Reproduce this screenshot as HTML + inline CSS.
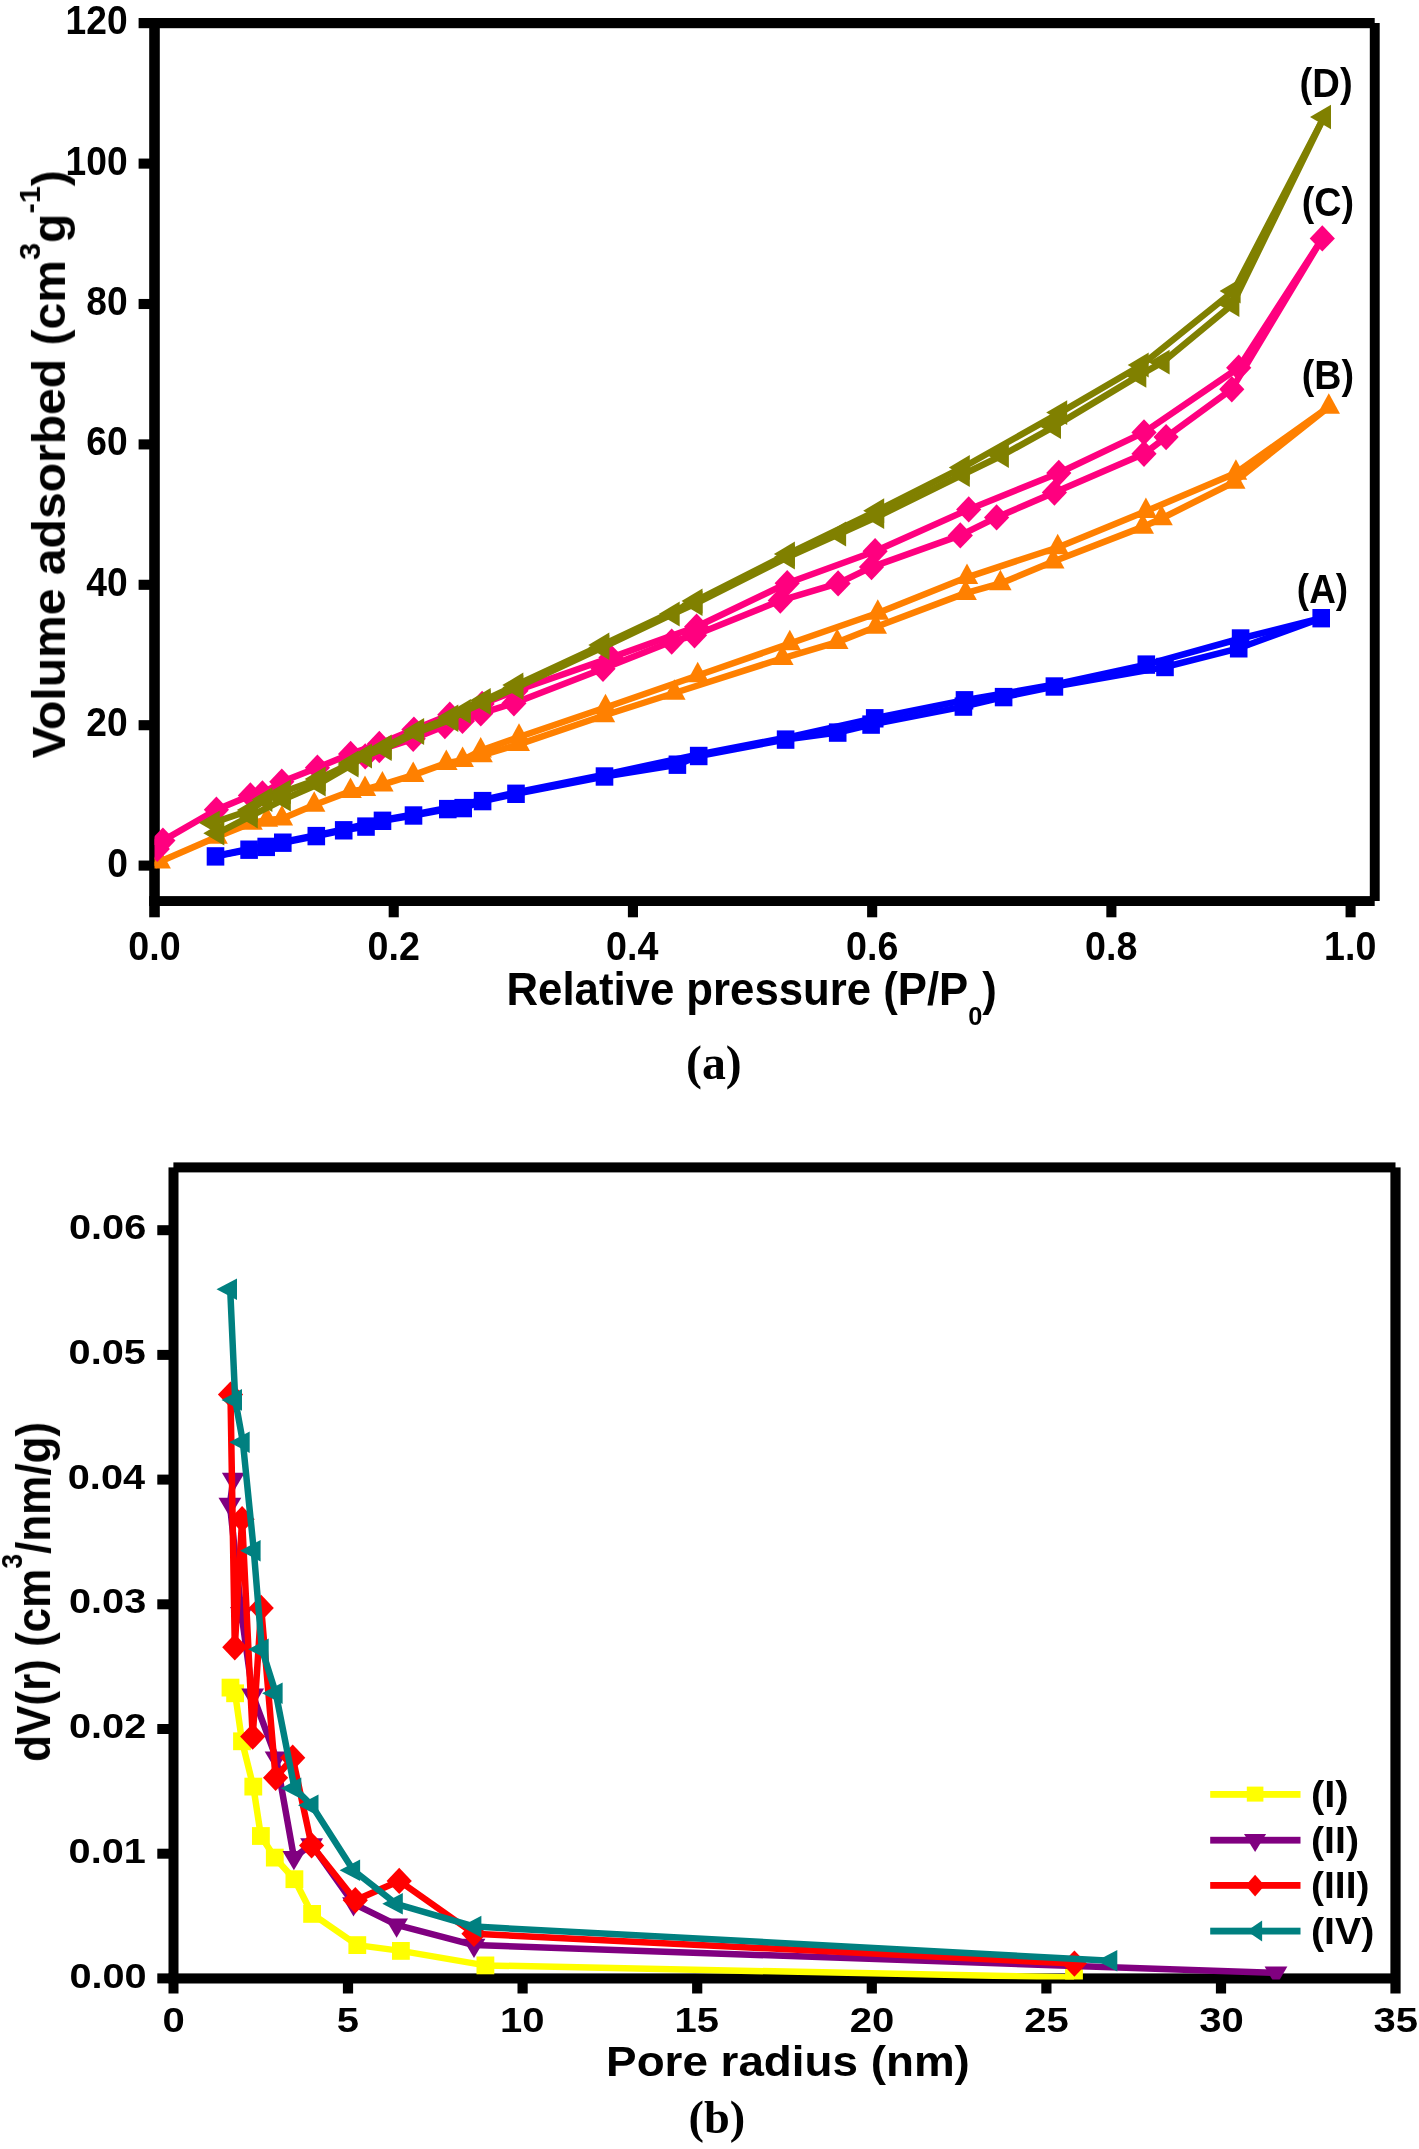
<!DOCTYPE html>
<html><head><meta charset="utf-8"><title>BET isotherms</title>
<style>html,body{margin:0;padding:0;background:#fff}svg{display:block}</style></head>
<body>
<svg width="1419" height="2149" viewBox="0 0 1419 2149">
<rect width="1419" height="2149" fill="#fff"/>
<rect x="138.60" y="18.00" width="1236.10" height="10.20" fill="#000"/>
<rect x="149.20" y="23.00" width="10.60" height="894.30" fill="#000"/>
<rect x="149.20" y="896.10" width="1225.50" height="9.90" fill="#000"/>
<rect x="1369.80" y="23.00" width="9.90" height="878.00" fill="#000"/>
<rect x="138.60" y="860.55" width="11.60" height="10.10" fill="#000"/>
<rect x="138.60" y="720.15" width="11.60" height="10.10" fill="#000"/>
<rect x="138.60" y="579.75" width="11.60" height="10.10" fill="#000"/>
<rect x="138.60" y="439.35" width="11.60" height="10.10" fill="#000"/>
<rect x="138.60" y="298.95" width="11.60" height="10.10" fill="#000"/>
<rect x="138.60" y="158.55" width="11.60" height="10.10" fill="#000"/>
<rect x="388.67" y="905.00" width="10.10" height="12.30" fill="#000"/>
<rect x="627.89" y="905.00" width="10.10" height="12.30" fill="#000"/>
<rect x="867.11" y="905.00" width="10.10" height="12.30" fill="#000"/>
<rect x="1106.33" y="905.00" width="10.10" height="12.30" fill="#000"/>
<rect x="1345.55" y="905.00" width="10.10" height="12.30" fill="#000"/>
<clipPath id="ca"><rect x="154.5" y="23" width="1220.2" height="878"/></clipPath>
<g clip-path="url(#ca)">
<polyline points="215.5,856.4 249.1,849.7 266.2,846.9 282.8,842.7 316.3,836.1 343.7,830.3 366.0,826.6 382.5,820.8 413.5,815.5 447.8,809.1 463.2,808.1 482.6,801.1 516.0,793.8 604.5,776.5 677.4,764.7 698.7,756.0 785.6,739.6 837.7,732.6 871.1,724.6 963.4,706.6 1003.6,697.1 1054.4,686.5 1165.0,667.0 1238.7,648.3 1321.2,618.2" fill="none" stroke="#0000ff" stroke-width="6.5" stroke-linejoin="round" stroke-linecap="butt"/>
<polyline points="1321.2,618.2 1240.6,638.5 1146.3,664.6 1055.0,684.5 964.5,700.3 874.7,718.3 785.6,737.8 698.7,754.4 604.5,774.6 516.0,792.4 482.6,800.0 447.8,808.0 413.5,814.5 382.5,820.0 343.7,829.5 316.3,835.3 282.8,842.0 249.1,849.0 215.5,856.0" fill="none" stroke="#0000ff" stroke-width="6.5" stroke-linejoin="round" stroke-linecap="butt"/>
<rect x="206.7" y="847.2" width="17.6" height="18.4" fill="#0000ff"/>
<rect x="240.3" y="840.5" width="17.6" height="18.4" fill="#0000ff"/>
<rect x="257.4" y="837.7" width="17.6" height="18.4" fill="#0000ff"/>
<rect x="274.0" y="833.5" width="17.6" height="18.4" fill="#0000ff"/>
<rect x="307.5" y="826.9" width="17.6" height="18.4" fill="#0000ff"/>
<rect x="334.9" y="821.1" width="17.6" height="18.4" fill="#0000ff"/>
<rect x="357.2" y="817.4" width="17.6" height="18.4" fill="#0000ff"/>
<rect x="373.7" y="811.6" width="17.6" height="18.4" fill="#0000ff"/>
<rect x="404.7" y="806.3" width="17.6" height="18.4" fill="#0000ff"/>
<rect x="439.0" y="799.9" width="17.6" height="18.4" fill="#0000ff"/>
<rect x="454.4" y="798.9" width="17.6" height="18.4" fill="#0000ff"/>
<rect x="473.8" y="791.9" width="17.6" height="18.4" fill="#0000ff"/>
<rect x="507.2" y="784.6" width="17.6" height="18.4" fill="#0000ff"/>
<rect x="595.7" y="767.3" width="17.6" height="18.4" fill="#0000ff"/>
<rect x="668.6" y="755.5" width="17.6" height="18.4" fill="#0000ff"/>
<rect x="689.9" y="746.8" width="17.6" height="18.4" fill="#0000ff"/>
<rect x="776.8" y="730.4" width="17.6" height="18.4" fill="#0000ff"/>
<rect x="828.9" y="723.4" width="17.6" height="18.4" fill="#0000ff"/>
<rect x="862.3" y="715.4" width="17.6" height="18.4" fill="#0000ff"/>
<rect x="954.6" y="697.4" width="17.6" height="18.4" fill="#0000ff"/>
<rect x="994.8" y="687.9" width="17.6" height="18.4" fill="#0000ff"/>
<rect x="1045.6" y="677.3" width="17.6" height="18.4" fill="#0000ff"/>
<rect x="1156.2" y="657.8" width="17.6" height="18.4" fill="#0000ff"/>
<rect x="1229.9" y="639.1" width="17.6" height="18.4" fill="#0000ff"/>
<rect x="1312.4" y="609.0" width="17.6" height="18.4" fill="#0000ff"/>
<rect x="1231.8" y="629.3" width="17.6" height="18.4" fill="#0000ff"/>
<rect x="1137.5" y="655.4" width="17.6" height="18.4" fill="#0000ff"/>
<rect x="955.7" y="691.1" width="17.6" height="18.4" fill="#0000ff"/>
<rect x="865.9" y="709.1" width="17.6" height="18.4" fill="#0000ff"/>
<polyline points="154.5,866.0 159.7,861.7 216.6,837.0 251.5,823.0 267.0,820.0 281.9,818.8 314.2,805.0 350.5,791.3 365.0,789.3 382.4,784.6 413.2,775.1 446.3,763.1 462.6,760.1 480.7,750.6 519.0,737.0 605.5,707.5 697.7,675.5 789.8,643.5 877.8,613.0 967.0,577.3 1057.7,547.5 1145.9,511.3 1235.9,472.9 1328.8,406.9" fill="none" stroke="#ff8000" stroke-width="6.5" stroke-linejoin="round" stroke-linecap="butt"/>
<polyline points="462.6,760.1 481.5,755.5 518.8,744.3 604.0,715.5 674.4,693.0 782.4,658.3 837.2,642.2 875.7,626.9 965.6,593.1 1000.4,583.4 1053.3,561.6 1142.8,526.9 1161.5,518.5 1234.3,482.0 1328.8,406.9" fill="none" stroke="#ff8000" stroke-width="6.5" stroke-linejoin="round" stroke-linecap="butt"/>
<polygon points="148.4,868.5 170.9,868.5 159.7,848.0" fill="#ff8000"/>
<polygon points="205.3,843.8 227.8,843.8 216.6,823.3" fill="#ff8000"/>
<polygon points="240.2,829.8 262.8,829.8 251.5,809.3" fill="#ff8000"/>
<polygon points="255.8,826.8 278.2,826.8 267.0,806.3" fill="#ff8000"/>
<polygon points="270.6,825.6 293.1,825.6 281.9,805.1" fill="#ff8000"/>
<polygon points="302.9,811.8 325.4,811.8 314.2,791.3" fill="#ff8000"/>
<polygon points="339.2,798.1 361.8,798.1 350.5,777.6" fill="#ff8000"/>
<polygon points="353.8,796.1 376.2,796.1 365.0,775.6" fill="#ff8000"/>
<polygon points="371.1,791.4 393.6,791.4 382.4,770.9" fill="#ff8000"/>
<polygon points="401.9,781.9 424.4,781.9 413.2,761.4" fill="#ff8000"/>
<polygon points="435.1,769.9 457.6,769.9 446.3,749.4" fill="#ff8000"/>
<polygon points="451.4,766.9 473.9,766.9 462.6,746.4" fill="#ff8000"/>
<polygon points="469.4,757.4 491.9,757.4 480.7,736.9" fill="#ff8000"/>
<polygon points="507.8,743.8 530.2,743.8 519.0,723.3" fill="#ff8000"/>
<polygon points="594.2,714.3 616.8,714.3 605.5,693.8" fill="#ff8000"/>
<polygon points="686.5,682.3 709.0,682.3 697.7,661.8" fill="#ff8000"/>
<polygon points="778.5,650.3 801.0,650.3 789.8,629.8" fill="#ff8000"/>
<polygon points="866.5,619.8 889.0,619.8 877.8,599.3" fill="#ff8000"/>
<polygon points="955.8,584.1 978.2,584.1 967.0,563.6" fill="#ff8000"/>
<polygon points="1046.5,554.3 1069.0,554.3 1057.7,533.8" fill="#ff8000"/>
<polygon points="1134.7,518.1 1157.2,518.1 1145.9,497.6" fill="#ff8000"/>
<polygon points="1224.7,479.7 1247.2,479.7 1235.9,459.2" fill="#ff8000"/>
<polygon points="1317.5,413.7 1340.0,413.7 1328.8,393.2" fill="#ff8000"/>
<polygon points="470.2,762.3 492.8,762.3 481.5,741.8" fill="#ff8000"/>
<polygon points="507.5,751.1 530.0,751.1 518.8,730.6" fill="#ff8000"/>
<polygon points="592.8,722.3 615.2,722.3 604.0,701.8" fill="#ff8000"/>
<polygon points="663.1,699.8 685.6,699.8 674.4,679.3" fill="#ff8000"/>
<polygon points="771.1,665.1 793.6,665.1 782.4,644.6" fill="#ff8000"/>
<polygon points="826.0,649.0 848.5,649.0 837.2,628.5" fill="#ff8000"/>
<polygon points="864.5,633.7 887.0,633.7 875.7,613.2" fill="#ff8000"/>
<polygon points="954.4,599.9 976.9,599.9 965.6,579.4" fill="#ff8000"/>
<polygon points="989.1,590.2 1011.6,590.2 1000.4,569.7" fill="#ff8000"/>
<polygon points="1042.0,568.4 1064.5,568.4 1053.3,547.9" fill="#ff8000"/>
<polygon points="1131.5,533.7 1154.0,533.7 1142.8,513.2" fill="#ff8000"/>
<polygon points="1150.2,525.3 1172.8,525.3 1161.5,504.8" fill="#ff8000"/>
<polygon points="1223.0,488.8 1245.5,488.8 1234.3,468.3" fill="#ff8000"/>
<polyline points="157.3,848.9 162.9,840.6 216.4,809.8 250.4,795.5 262.4,793.5 281.8,781.7 317.4,767.7 350.6,753.9 379.3,744.0 413.9,729.6 449.8,714.8 482.1,703.9 516.0,690.8 611.0,657.6 696.6,626.8 787.2,583.3 875.1,551.2 968.7,509.4 1058.8,473.0 1144.0,432.4 1238.7,367.8 1322.3,238.4" fill="none" stroke="#ff007f" stroke-width="6.5" stroke-linejoin="round" stroke-linecap="butt"/>
<polyline points="350.6,753.9 365.2,756.4 379.3,750.0 413.2,738.8 444.9,726.1 462.5,720.9 480.8,713.4 513.9,703.2 603.0,668.7 671.7,641.6 694.5,635.3 780.3,600.6 838.1,583.4 871.5,567.1 960.3,535.4 996.6,517.4 1054.4,492.5 1144.0,453.8 1166.1,437.1 1231.8,389.2 1322.3,238.4" fill="none" stroke="#ff007f" stroke-width="6.5" stroke-linejoin="round" stroke-linecap="butt"/>
<polygon points="144.7,848.9 157.3,835.7 169.9,848.9 157.3,862.1" fill="#ff007f"/>
<polygon points="150.3,840.6 162.9,827.4 175.5,840.6 162.9,853.8" fill="#ff007f"/>
<polygon points="203.8,809.8 216.4,796.6 229.0,809.8 216.4,823.0" fill="#ff007f"/>
<polygon points="237.8,795.5 250.4,782.3 263.0,795.5 250.4,808.7" fill="#ff007f"/>
<polygon points="249.8,793.5 262.4,780.3 275.0,793.5 262.4,806.7" fill="#ff007f"/>
<polygon points="269.2,781.7 281.8,768.5 294.4,781.7 281.8,794.9" fill="#ff007f"/>
<polygon points="304.8,767.7 317.4,754.5 330.0,767.7 317.4,780.9" fill="#ff007f"/>
<polygon points="338.0,753.9 350.6,740.7 363.2,753.9 350.6,767.1" fill="#ff007f"/>
<polygon points="366.7,744.0 379.3,730.8 391.9,744.0 379.3,757.2" fill="#ff007f"/>
<polygon points="401.3,729.6 413.9,716.4 426.5,729.6 413.9,742.8" fill="#ff007f"/>
<polygon points="437.2,714.8 449.8,701.6 462.4,714.8 449.8,728.0" fill="#ff007f"/>
<polygon points="469.5,703.9 482.1,690.7 494.7,703.9 482.1,717.1" fill="#ff007f"/>
<polygon points="503.4,690.8 516.0,677.6 528.6,690.8 516.0,704.0" fill="#ff007f"/>
<polygon points="598.4,657.6 611.0,644.4 623.6,657.6 611.0,670.8" fill="#ff007f"/>
<polygon points="684.0,626.8 696.6,613.6 709.2,626.8 696.6,640.0" fill="#ff007f"/>
<polygon points="774.6,583.3 787.2,570.1 799.8,583.3 787.2,596.5" fill="#ff007f"/>
<polygon points="862.5,551.2 875.1,538.0 887.7,551.2 875.1,564.4" fill="#ff007f"/>
<polygon points="956.1,509.4 968.7,496.2 981.3,509.4 968.7,522.6" fill="#ff007f"/>
<polygon points="1046.2,473.0 1058.8,459.8 1071.4,473.0 1058.8,486.2" fill="#ff007f"/>
<polygon points="1131.4,432.4 1144.0,419.2 1156.6,432.4 1144.0,445.6" fill="#ff007f"/>
<polygon points="1226.1,367.8 1238.7,354.6 1251.3,367.8 1238.7,381.0" fill="#ff007f"/>
<polygon points="1309.7,238.4 1322.3,225.2 1334.9,238.4 1322.3,251.6" fill="#ff007f"/>
<polygon points="352.6,756.4 365.2,743.2 377.8,756.4 365.2,769.6" fill="#ff007f"/>
<polygon points="366.7,750.0 379.3,736.8 391.9,750.0 379.3,763.2" fill="#ff007f"/>
<polygon points="400.6,738.8 413.2,725.6 425.8,738.8 413.2,752.0" fill="#ff007f"/>
<polygon points="432.3,726.1 444.9,712.9 457.5,726.1 444.9,739.3" fill="#ff007f"/>
<polygon points="449.9,720.9 462.5,707.7 475.1,720.9 462.5,734.1" fill="#ff007f"/>
<polygon points="468.2,713.4 480.8,700.2 493.4,713.4 480.8,726.6" fill="#ff007f"/>
<polygon points="501.3,703.2 513.9,690.0 526.5,703.2 513.9,716.4" fill="#ff007f"/>
<polygon points="590.4,668.7 603.0,655.5 615.6,668.7 603.0,681.9" fill="#ff007f"/>
<polygon points="659.1,641.6 671.7,628.4 684.3,641.6 671.7,654.8" fill="#ff007f"/>
<polygon points="681.9,635.3 694.5,622.1 707.1,635.3 694.5,648.5" fill="#ff007f"/>
<polygon points="767.7,600.6 780.3,587.4 792.9,600.6 780.3,613.8" fill="#ff007f"/>
<polygon points="825.5,583.4 838.1,570.2 850.7,583.4 838.1,596.6" fill="#ff007f"/>
<polygon points="858.9,567.1 871.5,553.9 884.1,567.1 871.5,580.3" fill="#ff007f"/>
<polygon points="947.7,535.4 960.3,522.2 972.9,535.4 960.3,548.6" fill="#ff007f"/>
<polygon points="984.0,517.4 996.6,504.2 1009.2,517.4 996.6,530.6" fill="#ff007f"/>
<polygon points="1041.8,492.5 1054.4,479.3 1067.0,492.5 1054.4,505.7" fill="#ff007f"/>
<polygon points="1131.4,453.8 1144.0,440.6 1156.6,453.8 1144.0,467.0" fill="#ff007f"/>
<polygon points="1153.5,437.1 1166.1,423.9 1178.7,437.1 1166.1,450.3" fill="#ff007f"/>
<polygon points="1219.2,389.2 1231.8,376.0 1244.4,389.2 1231.8,402.4" fill="#ff007f"/>
<polyline points="1324.0,117.0 1233.6,291.0 1141.7,365.0 1060.2,412.6 962.8,467.5 877.2,510.7 787.9,554.0 695.5,601.0 602.3,645.0 516.3,685.0 483.7,700.5 451.3,717.0 417.1,730.5 384.7,747.0 351.5,763.0 318.7,779.0 283.8,791.7 265.4,799.6 250.8,810.0 212.8,822.8" fill="none" stroke="#808000" stroke-width="6.5" stroke-linejoin="round" stroke-linecap="butt"/>
<polyline points="217.3,833.3 250.8,816.0 283.8,799.3 318.7,784.0 351.5,765.0 365.0,756.0 384.7,748.5 417.1,732.5 451.3,719.5 463.9,711.5 483.7,702.5 516.3,687.5 602.3,647.5 672.7,614.0 695.5,603.5 787.9,557.0 839.1,534.0 877.2,516.8 962.8,474.5 1001.9,455.5 1054.0,426.6 1139.3,375.4 1162.6,362.2 1232.4,304.5 1324.0,117.0" fill="none" stroke="#808000" stroke-width="6.5" stroke-linejoin="round" stroke-linecap="butt"/>
<polygon points="1331.0,104.7 1331.0,129.3 1310.0,117.0" fill="#808000"/>
<polygon points="1240.6,278.6 1240.6,303.4 1219.6,291.0" fill="#808000"/>
<polygon points="1148.7,352.6 1148.7,377.4 1127.7,365.0" fill="#808000"/>
<polygon points="1067.2,400.2 1067.2,425.0 1046.2,412.6" fill="#808000"/>
<polygon points="969.8,455.1 969.8,479.9 948.8,467.5" fill="#808000"/>
<polygon points="884.2,498.3 884.2,523.0 863.2,510.7" fill="#808000"/>
<polygon points="794.9,541.6 794.9,566.4 773.9,554.0" fill="#808000"/>
<polygon points="702.5,588.6 702.5,613.4 681.5,601.0" fill="#808000"/>
<polygon points="609.3,632.6 609.3,657.4 588.3,645.0" fill="#808000"/>
<polygon points="523.3,672.6 523.3,697.4 502.3,685.0" fill="#808000"/>
<polygon points="490.7,688.1 490.7,712.9 469.7,700.5" fill="#808000"/>
<polygon points="458.3,704.6 458.3,729.4 437.3,717.0" fill="#808000"/>
<polygon points="424.1,718.1 424.1,742.9 403.1,730.5" fill="#808000"/>
<polygon points="391.7,734.6 391.7,759.4 370.7,747.0" fill="#808000"/>
<polygon points="358.5,750.6 358.5,775.4 337.5,763.0" fill="#808000"/>
<polygon points="325.7,766.6 325.7,791.4 304.7,779.0" fill="#808000"/>
<polygon points="290.8,779.4 290.8,804.1 269.8,791.7" fill="#808000"/>
<polygon points="272.4,787.2 272.4,812.0 251.4,799.6" fill="#808000"/>
<polygon points="257.8,797.6 257.8,822.4 236.8,810.0" fill="#808000"/>
<polygon points="219.8,810.4 219.8,835.1 198.8,822.8" fill="#808000"/>
<polygon points="224.3,820.9 224.3,845.6 203.3,833.3" fill="#808000"/>
<polygon points="257.8,803.6 257.8,828.4 236.8,816.0" fill="#808000"/>
<polygon points="290.8,786.9 290.8,811.6 269.8,799.3" fill="#808000"/>
<polygon points="325.7,771.6 325.7,796.4 304.7,784.0" fill="#808000"/>
<polygon points="358.5,752.6 358.5,777.4 337.5,765.0" fill="#808000"/>
<polygon points="372.0,743.6 372.0,768.4 351.0,756.0" fill="#808000"/>
<polygon points="391.7,736.1 391.7,760.9 370.7,748.5" fill="#808000"/>
<polygon points="424.1,720.1 424.1,744.9 403.1,732.5" fill="#808000"/>
<polygon points="458.3,707.1 458.3,731.9 437.3,719.5" fill="#808000"/>
<polygon points="470.9,699.1 470.9,723.9 449.9,711.5" fill="#808000"/>
<polygon points="490.7,690.1 490.7,714.9 469.7,702.5" fill="#808000"/>
<polygon points="523.3,675.1 523.3,699.9 502.3,687.5" fill="#808000"/>
<polygon points="609.3,635.1 609.3,659.9 588.3,647.5" fill="#808000"/>
<polygon points="679.7,601.6 679.7,626.4 658.7,614.0" fill="#808000"/>
<polygon points="702.5,591.1 702.5,615.9 681.5,603.5" fill="#808000"/>
<polygon points="794.9,544.6 794.9,569.4 773.9,557.0" fill="#808000"/>
<polygon points="846.1,521.6 846.1,546.4 825.1,534.0" fill="#808000"/>
<polygon points="884.2,504.4 884.2,529.1 863.2,516.8" fill="#808000"/>
<polygon points="969.8,462.1 969.8,486.9 948.8,474.5" fill="#808000"/>
<polygon points="1008.9,443.1 1008.9,467.9 987.9,455.5" fill="#808000"/>
<polygon points="1061.0,414.2 1061.0,439.0 1040.0,426.6" fill="#808000"/>
<polygon points="1146.3,363.0 1146.3,387.8 1125.3,375.4" fill="#808000"/>
<polygon points="1169.6,349.8 1169.6,374.6 1148.6,362.2" fill="#808000"/>
<polygon points="1239.4,292.1 1239.4,316.9 1218.4,304.5" fill="#808000"/>
</g>
<rect x="173.40" y="1162.40" width="1222.10" height="10.00" fill="#000"/>
<rect x="168.50" y="1167.40" width="10.00" height="826.10" fill="#000"/>
<rect x="168.50" y="1973.40" width="1227.00" height="10.10" fill="#000"/>
<rect x="1390.40" y="1167.40" width="10.20" height="826.10" fill="#000"/>
<rect x="157.30" y="1973.40" width="12.20" height="10.00" fill="#000"/>
<rect x="157.30" y="1848.70" width="12.20" height="10.00" fill="#000"/>
<rect x="157.30" y="1724.00" width="12.20" height="10.00" fill="#000"/>
<rect x="157.30" y="1599.30" width="12.20" height="10.00" fill="#000"/>
<rect x="157.30" y="1474.60" width="12.20" height="10.00" fill="#000"/>
<rect x="157.30" y="1349.90" width="12.20" height="10.00" fill="#000"/>
<rect x="157.30" y="1225.20" width="12.20" height="10.00" fill="#000"/>
<rect x="342.90" y="1982.50" width="10.20" height="11.00" fill="#000"/>
<rect x="517.50" y="1982.50" width="10.20" height="11.00" fill="#000"/>
<rect x="692.10" y="1982.50" width="10.20" height="11.00" fill="#000"/>
<rect x="866.70" y="1982.50" width="10.20" height="11.00" fill="#000"/>
<rect x="1041.30" y="1982.50" width="10.20" height="11.00" fill="#000"/>
<rect x="1215.90" y="1982.50" width="10.20" height="11.00" fill="#000"/>
<clipPath id="cb"><rect x="173.4" y="1167.4" width="1222.1" height="812.1999999999998"/></clipPath>
<g clip-path="url(#cb)">
<polyline points="230.5,1687.6 235.1,1693.3 242.0,1741.3 253.3,1786.6 260.9,1836.0 274.8,1857.6 294.4,1879.2 312.1,1913.9 357.3,1945.1 400.9,1950.9 485.4,1965.4 1074.0,1977.5" fill="none" stroke="#ffff00" stroke-width="6.5" stroke-linejoin="round" stroke-linecap="butt"/>
<rect x="221.6" y="1678.7" width="17.8" height="17.8" fill="#ffff00"/>
<rect x="226.2" y="1684.4" width="17.8" height="17.8" fill="#ffff00"/>
<rect x="233.1" y="1732.4" width="17.8" height="17.8" fill="#ffff00"/>
<rect x="244.4" y="1777.7" width="17.8" height="17.8" fill="#ffff00"/>
<rect x="252.0" y="1827.1" width="17.8" height="17.8" fill="#ffff00"/>
<rect x="265.9" y="1848.7" width="17.8" height="17.8" fill="#ffff00"/>
<rect x="285.5" y="1870.3" width="17.8" height="17.8" fill="#ffff00"/>
<rect x="303.2" y="1905.0" width="17.8" height="17.8" fill="#ffff00"/>
<rect x="348.4" y="1936.2" width="17.8" height="17.8" fill="#ffff00"/>
<rect x="392.0" y="1942.0" width="17.8" height="17.8" fill="#ffff00"/>
<rect x="476.5" y="1956.5" width="17.8" height="17.8" fill="#ffff00"/>
<rect x="1065.1" y="1968.6" width="17.8" height="17.8" fill="#ffff00"/>
<polyline points="233.3,1479.2 229.9,1504.2 241.4,1613.4 252.7,1695.0 276.1,1757.8 293.9,1857.3 311.6,1844.6 353.5,1903.7 396.6,1924.8 474.0,1945.1 1276.0,1973.0" fill="none" stroke="#800080" stroke-width="6.5" stroke-linejoin="round" stroke-linecap="butt"/>
<polygon points="221.9,1472.8 244.7,1472.8 233.3,1492.1" fill="#800080"/>
<polygon points="218.5,1497.8 241.3,1497.8 229.9,1517.1" fill="#800080"/>
<polygon points="230.0,1607.0 252.8,1607.0 241.4,1626.3" fill="#800080"/>
<polygon points="241.3,1688.6 264.1,1688.6 252.7,1707.9" fill="#800080"/>
<polygon points="264.7,1751.4 287.5,1751.4 276.1,1770.7" fill="#800080"/>
<polygon points="282.5,1850.9 305.3,1850.9 293.9,1870.2" fill="#800080"/>
<polygon points="300.2,1838.2 323.0,1838.2 311.6,1857.5" fill="#800080"/>
<polygon points="342.1,1897.3 364.9,1897.3 353.5,1916.6" fill="#800080"/>
<polygon points="385.2,1918.4 408.0,1918.4 396.6,1937.7" fill="#800080"/>
<polygon points="462.6,1938.7 485.4,1938.7 474.0,1958.0" fill="#800080"/>
<polygon points="1264.6,1966.6 1287.4,1966.6 1276.0,1985.9" fill="#800080"/>
<polyline points="230.5,1394.6 234.8,1647.2 242.1,1519.2 252.7,1736.6 261.2,1608.0 275.6,1777.7 292.7,1757.8 311.6,1845.4 355.3,1900.2 399.2,1880.9 474.0,1933.7 1074.4,1963.6" fill="none" stroke="#ff0000" stroke-width="6.5" stroke-linejoin="round" stroke-linecap="butt"/>
<polygon points="217.9,1394.6 230.5,1381.4 243.1,1394.6 230.5,1407.8" fill="#ff0000"/>
<polygon points="222.2,1647.2 234.8,1634.0 247.4,1647.2 234.8,1660.4" fill="#ff0000"/>
<polygon points="229.5,1519.2 242.1,1506.0 254.7,1519.2 242.1,1532.4" fill="#ff0000"/>
<polygon points="240.1,1736.6 252.7,1723.4 265.3,1736.6 252.7,1749.8" fill="#ff0000"/>
<polygon points="248.6,1608.0 261.2,1594.8 273.8,1608.0 261.2,1621.2" fill="#ff0000"/>
<polygon points="263.0,1777.7 275.6,1764.5 288.2,1777.7 275.6,1790.9" fill="#ff0000"/>
<polygon points="280.1,1757.8 292.7,1744.6 305.3,1757.8 292.7,1771.0" fill="#ff0000"/>
<polygon points="299.0,1845.4 311.6,1832.2 324.2,1845.4 311.6,1858.6" fill="#ff0000"/>
<polygon points="342.7,1900.2 355.3,1887.0 367.9,1900.2 355.3,1913.4" fill="#ff0000"/>
<polygon points="386.6,1880.9 399.2,1867.7 411.8,1880.9 399.2,1894.1" fill="#ff0000"/>
<polygon points="461.4,1933.7 474.0,1920.5 486.6,1933.7 474.0,1946.9" fill="#ff0000"/>
<polygon points="1061.8,1963.6 1074.4,1950.4 1087.0,1963.6 1074.4,1976.8" fill="#ff0000"/>
<polyline points="230.2,1289.3 235.2,1399.9 242.9,1442.2 253.8,1550.7 261.9,1649.3 275.8,1693.2 294.5,1788.3 311.7,1805.3 353.3,1870.3 396.0,1903.8 474.6,1926.6 1110.5,1960.7" fill="none" stroke="#008080" stroke-width="6.5" stroke-linejoin="round" stroke-linecap="butt"/>
<polygon points="237.0,1278.5 237.0,1300.1 216.5,1289.3" fill="#008080"/>
<polygon points="242.0,1389.1 242.0,1410.8 221.5,1399.9" fill="#008080"/>
<polygon points="249.7,1431.4 249.7,1453.0 229.2,1442.2" fill="#008080"/>
<polygon points="260.6,1539.9 260.6,1561.5 240.1,1550.7" fill="#008080"/>
<polygon points="268.7,1638.5 268.7,1660.1 248.2,1649.3" fill="#008080"/>
<polygon points="282.6,1682.4 282.6,1704.0 262.1,1693.2" fill="#008080"/>
<polygon points="301.3,1777.5 301.3,1799.1 280.8,1788.3" fill="#008080"/>
<polygon points="318.5,1794.5 318.5,1816.1 298.0,1805.3" fill="#008080"/>
<polygon points="360.1,1859.5 360.1,1881.1 339.6,1870.3" fill="#008080"/>
<polygon points="402.8,1893.0 402.8,1914.6 382.3,1903.8" fill="#008080"/>
<polygon points="481.4,1915.8 481.4,1937.4 460.9,1926.6" fill="#008080"/>
<polygon points="1117.3,1949.9 1117.3,1971.5 1096.8,1960.7" fill="#008080"/>
</g>
<rect x="1210.20" y="1791.00" width="90.30" height="6.80" fill="#ffff00"/>
<rect x="1210.20" y="1836.80" width="90.30" height="6.80" fill="#800080"/>
<rect x="1210.20" y="1882.00" width="90.30" height="6.80" fill="#ff0000"/>
<rect x="1210.20" y="1927.70" width="90.30" height="6.80" fill="#008080"/>
<rect x="1246.8" y="1786.6" width="16.6" height="15.0" fill="#ffff00"/>
<polygon points="1244.0,1834.1 1266.1,1834.1 1255.1,1851.9" fill="#800080"/>
<polygon points="1245.6,1885.6 1255.1,1874.8 1264.6,1885.6 1255.1,1896.4" fill="#ff0000"/>
<polygon points="1262.1,1920.6 1262.1,1941.6 1246.8,1931.1" fill="#008080"/>
<g opacity="0.999">
<text transform="translate(107.21,876.64) scale(0.3723,0.4070)" font-family="'Liberation Sans', sans-serif" font-weight="bold" font-size="100" fill="#000">0</text>
<text transform="translate(86.36,736.24) scale(0.3723,0.4070)" font-family="'Liberation Sans', sans-serif" font-weight="bold" font-size="100" fill="#000">20</text>
<text transform="translate(86.36,595.84) scale(0.3723,0.4070)" font-family="'Liberation Sans', sans-serif" font-weight="bold" font-size="100" fill="#000">40</text>
<text transform="translate(86.36,455.44) scale(0.3723,0.4070)" font-family="'Liberation Sans', sans-serif" font-weight="bold" font-size="100" fill="#000">60</text>
<text transform="translate(86.36,315.04) scale(0.3723,0.4070)" font-family="'Liberation Sans', sans-serif" font-weight="bold" font-size="100" fill="#000">80</text>
<text transform="translate(65.52,174.64) scale(0.3723,0.4070)" font-family="'Liberation Sans', sans-serif" font-weight="bold" font-size="100" fill="#000">100</text>
<text transform="translate(65.52,34.24) scale(0.3723,0.4070)" font-family="'Liberation Sans', sans-serif" font-weight="bold" font-size="100" fill="#000">120</text>
<text transform="translate(128.34,959.79) scale(0.3763,0.4070)" font-family="'Liberation Sans', sans-serif" font-weight="bold" font-size="100" fill="#000">0.0</text>
<text transform="translate(367.56,959.79) scale(0.3763,0.4070)" font-family="'Liberation Sans', sans-serif" font-weight="bold" font-size="100" fill="#000">0.2</text>
<text transform="translate(606.03,959.79) scale(0.3763,0.4070)" font-family="'Liberation Sans', sans-serif" font-weight="bold" font-size="100" fill="#000">0.4</text>
<text transform="translate(846.00,959.79) scale(0.3763,0.4070)" font-family="'Liberation Sans', sans-serif" font-weight="bold" font-size="100" fill="#000">0.6</text>
<text transform="translate(1085.04,959.79) scale(0.3763,0.4070)" font-family="'Liberation Sans', sans-serif" font-weight="bold" font-size="100" fill="#000">0.8</text>
<text transform="translate(1324.07,959.79) scale(0.3763,0.4070)" font-family="'Liberation Sans', sans-serif" font-weight="bold" font-size="100" fill="#000">1.0</text>
<text transform="translate(1299.59,97.21) scale(0.3822,0.4043)" font-family="'Liberation Sans', sans-serif" font-weight="bold" font-size="100" fill="#000">(D)</text>
<text transform="translate(1301.72,216.31) scale(0.3767,0.4043)" font-family="'Liberation Sans', sans-serif" font-weight="bold" font-size="100" fill="#000">(C)</text>
<text transform="translate(1301.72,389.01) scale(0.3767,0.4043)" font-family="'Liberation Sans', sans-serif" font-weight="bold" font-size="100" fill="#000">(B)</text>
<text transform="translate(1296.86,603.31) scale(0.3690,0.4043)" font-family="'Liberation Sans', sans-serif" font-weight="bold" font-size="100" fill="#000">(A)</text>
<text transform="translate(685.99,1078.72) scale(0.4778,0.4800)" font-family="'Liberation Serif', serif" font-weight="bold" font-size="100" fill="#000">(a)</text>
<text transform="translate(688.44,2132.55) scale(0.4640,0.4689)" font-family="'Liberation Serif', serif" font-weight="bold" font-size="100" fill="#000">(b)</text>
<text transform="translate(506.54,1004.80) scale(0.4373,0.4565)" font-family="'Liberation Sans', sans-serif" font-weight="bold" font-size="100" fill="#000">Relative pressure (P/P<tspan font-size="58" dy="45">0</tspan><tspan dy="-45">)</tspan></text>
<text transform="translate(65.00,758.48) rotate(-90) scale(0.4807,0.4696)" font-family="'Liberation Sans', sans-serif" font-weight="bold" font-size="100" fill="#000">Volume adsorbed (cm<tspan font-size="64" dy="-54">3</tspan><tspan dy="54">g</tspan><tspan font-size="64" dy="-54">-1</tspan><tspan dy="54">)</tspan></text>
<text transform="translate(606.10,2075.90) scale(0.4579,0.4232)" font-family="'Liberation Sans', sans-serif" font-weight="bold" font-size="100" fill="#000">Pore radius (nm)</text>
<text transform="translate(50.40,1761.86) rotate(-90) scale(0.4405,0.4812)" font-family="'Liberation Sans', sans-serif" font-weight="bold" font-size="100" fill="#000">dV(r) (cm<tspan font-size="60" dy="-58">3</tspan><tspan dy="58">/nm/g)</tspan></text>
<text transform="translate(69.40,1987.55) scale(0.3968,0.3521)" font-family="'Liberation Sans', sans-serif" font-weight="bold" font-size="100" fill="#000">0.00</text>
<text transform="translate(68.61,1862.85) scale(0.3968,0.3521)" font-family="'Liberation Sans', sans-serif" font-weight="bold" font-size="100" fill="#000">0.01</text>
<text transform="translate(69.00,1738.15) scale(0.3968,0.3521)" font-family="'Liberation Sans', sans-serif" font-weight="bold" font-size="100" fill="#000">0.02</text>
<text transform="translate(69.00,1613.45) scale(0.3968,0.3521)" font-family="'Liberation Sans', sans-serif" font-weight="bold" font-size="100" fill="#000">0.03</text>
<text transform="translate(67.81,1488.75) scale(0.3968,0.3521)" font-family="'Liberation Sans', sans-serif" font-weight="bold" font-size="100" fill="#000">0.04</text>
<text transform="translate(68.61,1364.05) scale(0.3968,0.3521)" font-family="'Liberation Sans', sans-serif" font-weight="bold" font-size="100" fill="#000">0.05</text>
<text transform="translate(69.00,1239.35) scale(0.3968,0.3521)" font-family="'Liberation Sans', sans-serif" font-weight="bold" font-size="100" fill="#000">0.06</text>
<text transform="translate(162.40,2032.25) scale(0.4000,0.3465)" font-family="'Liberation Sans', sans-serif" font-weight="bold" font-size="100" fill="#000">0</text>
<text transform="translate(336.80,2032.25) scale(0.4000,0.3465)" font-family="'Liberation Sans', sans-serif" font-weight="bold" font-size="100" fill="#000">5</text>
<text transform="translate(500.00,2032.25) scale(0.4000,0.3465)" font-family="'Liberation Sans', sans-serif" font-weight="bold" font-size="100" fill="#000">10</text>
<text transform="translate(674.40,2032.25) scale(0.4000,0.3465)" font-family="'Liberation Sans', sans-serif" font-weight="bold" font-size="100" fill="#000">15</text>
<text transform="translate(849.80,2032.25) scale(0.4000,0.3465)" font-family="'Liberation Sans', sans-serif" font-weight="bold" font-size="100" fill="#000">20</text>
<text transform="translate(1024.20,2032.25) scale(0.4000,0.3465)" font-family="'Liberation Sans', sans-serif" font-weight="bold" font-size="100" fill="#000">25</text>
<text transform="translate(1199.20,2032.25) scale(0.4000,0.3465)" font-family="'Liberation Sans', sans-serif" font-weight="bold" font-size="100" fill="#000">30</text>
<text transform="translate(1373.60,2032.25) scale(0.4000,0.3465)" font-family="'Liberation Sans', sans-serif" font-weight="bold" font-size="100" fill="#000">35</text>
<text transform="translate(1311.01,1806.67) scale(0.3988,0.3681)" font-family="'Liberation Sans', sans-serif" font-weight="bold" font-size="100" fill="#000">(I)</text>
<text transform="translate(1311.04,1852.78) scale(0.3929,0.3628)" font-family="'Liberation Sans', sans-serif" font-weight="bold" font-size="100" fill="#000">(II)</text>
<text transform="translate(1311.05,1897.87) scale(0.3893,0.3681)" font-family="'Liberation Sans', sans-serif" font-weight="bold" font-size="100" fill="#000">(III)</text>
<text transform="translate(1311.03,1943.87) scale(0.3934,0.3681)" font-family="'Liberation Sans', sans-serif" font-weight="bold" font-size="100" fill="#000">(IV)</text>
</g>
</svg>
</body></html>
